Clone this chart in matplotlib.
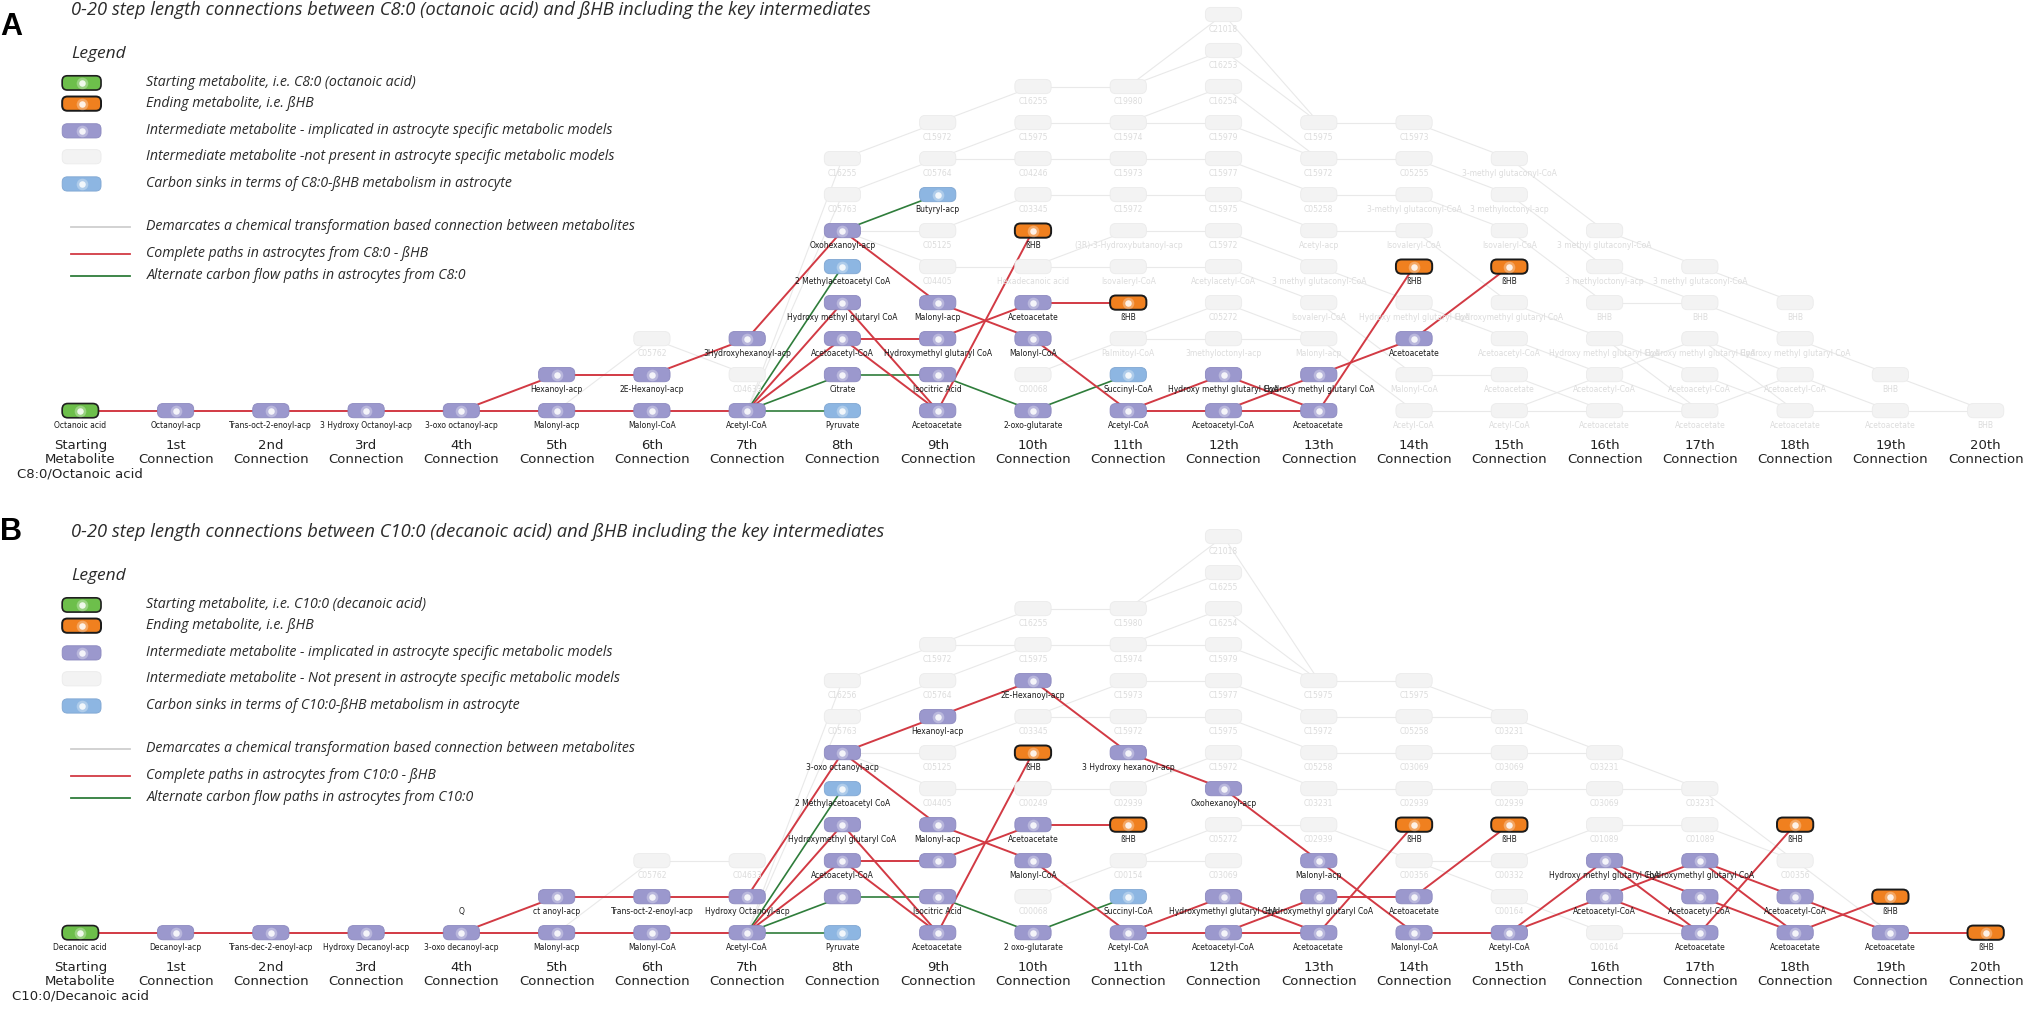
import matplotlib
matplotlib.use("Agg")
import matplotlib.pyplot as plt
from matplotlib.patches import FancyBboxPatch

# ---------------- data ----------------
ordinals = ['1st', '2nd', '3rd', '4th', '5th', '6th', '7th', '8th', '9th', '10th',
            '11th', '12th', '13th', '14th', '15th', '16th', '17th', '18th', '19th', '20th']

# kinds: s = starting, e = ending (bHB), p = implicated, g = not present, b = carbon sink, t = text only
a_nodes = [
    (0, 0, 'Octanoic acid', 's'),
    (1, 0, 'Octanoyl-acp', 'p'),
    (2, 0, 'Trans-oct-2-enoyl-acp', 'p'),
    (3, 0, '3 Hydroxy Octanoyl-acp', 'p'),
    (4, 0, '3-oxo octanoyl-acp', 'p'),
    (5, 0, 'Malonyl-acp', 'p'), (5, 1, 'Hexanoyl-acp', 'p'),
    (6, 0, 'Malonyl-CoA', 'p'), (6, 1, '2E-Hexanoyl-acp', 'p'), (6, 2, 'C05762', 'g'),
    (7, 0, 'Acetyl-CoA', 'p'), (7, 1, 'C04633', 'g'), (7, 2, '3Hydroxyhexanoyl-acp', 'p'),
    (8, 0, 'Pyruvate', 'b'), (8, 1, 'Citrate', 'p'), (8, 2, 'Acetoacetyl-CoA', 'p'),
    (8, 3, 'Hydroxy methyl glutaryl CoA', 'p'), (8, 4, '2 Methylacetoacetyl CoA', 'b'),
    (8, 5, 'Oxohexanoyl-acp', 'p'), (8, 6, 'C05763', 'g'), (8, 7, 'C16255', 'g'),
    (9, 0, 'Acetoacetate', 'p'), (9, 1, 'Isocitric Acid', 'p'), (9, 2, 'Hydroxymethyl glutaryl CoA', 'p'),
    (9, 3, 'Malonyl-acp', 'p'), (9, 4, 'C04405', 'g'), (9, 5, 'C05125', 'g'), (9, 6, 'Butyryl-acp', 'b'),
    (9, 7, 'C05764', 'g'), (9, 8, 'C15972', 'g'),
    (10, 0, '2-oxo-glutarate', 'p'), (10, 1, 'C00068', 'g'), (10, 2, 'Malonyl-CoA', 'p'),
    (10, 3, 'Acetoacetate', 'p'), (10, 4, 'Hexadecanoic acid', 'g'), (10, 5, 'ßHB', 'e'),
    (10, 6, 'C03345', 'g'), (10, 7, 'C04246', 'g'), (10, 8, 'C15975', 'g'), (10, 9, 'C16255', 'g'),
    (11, 0, 'Acetyl-CoA', 'p'), (11, 1, 'Succinyl-CoA', 'b'), (11, 2, 'Palmitoyl-CoA', 'g'),
    (11, 3, 'ßHB', 'e'), (11, 4, 'Isovaleryl-CoA', 'g'), (11, 5, '(3R)-3-Hydroxybutanoyl-acp', 'g'),
    (11, 6, 'C15972', 'g'), (11, 7, 'C15973', 'g'), (11, 8, 'C15974', 'g'), (11, 9, 'C19980', 'g'),
    (12, 0, 'Acetoacetyl-CoA', 'p'), (12, 1, 'Hydroxy methyl glutaryl CoA', 'p'),
    (12, 2, '3methyloctonyl-acp', 'g'), (12, 3, 'C05272', 'g'), (12, 4, 'Acetylacetyl-CoA', 'g'),
    (12, 5, 'C15972', 'g'), (12, 6, 'C15975', 'g'), (12, 7, 'C15977', 'g'), (12, 8, 'C15979', 'g'),
    (12, 9, 'C16254', 'g'), (12, 10, 'C16253', 'g'), (12, 11, 'C21018', 'g'),
    (13, 0, 'Acetoacetate', 'p'), (13, 1, 'Hydroxy methyl glutaryl CoA', 'p'), (13, 2, 'Malonyl-acp', 'g'),
    (13, 3, 'Isovaleryl-CoA', 'g'), (13, 4, '3 methyl glutaconyl-CoA', 'g'), (13, 5, 'Acetyl-acp', 'g'),
    (13, 6, 'C05258', 'g'), (13, 7, 'C15972', 'g'), (13, 8, 'C15975', 'g'),
    (14, 0, 'Acetyl-CoA', 'g'), (14, 1, 'Malonyl-CoA', 'g'), (14, 2, 'Acetoacetate', 'p'),
    (14, 3, 'Hydroxy methyl glutaryl CoA', 'g'), (14, 4, 'ßHB', 'e'), (14, 5, 'Isovaleryl-CoA', 'g'),
    (14, 6, '3-methyl glutaconyl-CoA', 'g'), (14, 7, 'C05255', 'g'), (14, 8, 'C15973', 'g'),
    (15, 0, 'Acetyl-CoA', 'g'), (15, 1, 'Acetoacetate', 'g'), (15, 2, 'Acetoacetyl-CoA', 'g'),
    (15, 3, 'Hydroxymethyl glutaryl CoA', 'g'), (15, 4, 'ßHB', 'e'), (15, 5, 'Isovaleryl-CoA', 'g'),
    (15, 6, '3 methyloctonyl-acp', 'g'), (15, 7, '3-methyl glutaconyl-CoA', 'g'),
    (16, 0, 'Acetoacetate', 'g'), (16, 1, 'Acetoacetyl-CoA', 'g'), (16, 2, 'Hydroxy methyl glutaryl CoA', 'g'),
    (16, 3, 'BHB', 'g'), (16, 4, '3 methyloctonyl-acp', 'g'), (16, 5, '3 methyl glutaconyl-CoA', 'g'),
    (17, 0, 'Acetoacetate', 'g'), (17, 1, 'Acetoacetyl-CoA', 'g'), (17, 2, 'Hydroxy methyl glutaryl CoA', 'g'),
    (17, 3, 'BHB', 'g'), (17, 4, '3 methyl glutaconyl-CoA', 'g'),
    (18, 0, 'Acetoacetate', 'g'), (18, 1, 'Acetoacetyl-CoA', 'g'), (18, 2, 'Hydroxy methyl glutaryl CoA', 'g'),
    (18, 3, 'BHB', 'g'),
    (19, 0, 'Acetoacetate', 'g'), (19, 1, 'BHB', 'g'),
    (20, 0, 'BHB', 'g'),
]

a_red = [(0, 0, 1, 0), (1, 0, 2, 0), (2, 0, 3, 0), (3, 0, 4, 0), (4, 0, 5, 0), (4, 0, 5, 1),
         (5, 0, 6, 0), (5, 1, 6, 1), (6, 0, 7, 0), (6, 1, 7, 2), (7, 2, 8, 5), (7, 0, 8, 2),
         (7, 0, 8, 3), (8, 5, 9, 3), (8, 3, 9, 0), (8, 2, 9, 2), (8, 2, 9, 0), (9, 3, 10, 2),
         (9, 2, 10, 3), (9, 0, 10, 5), (10, 3, 11, 3), (10, 2, 11, 0), (11, 0, 12, 1),
         (11, 0, 12, 0), (12, 1, 13, 0), (12, 0, 13, 1), (12, 0, 13, 0), (13, 1, 14, 2),
         (13, 0, 14, 4), (14, 2, 15, 4)]
a_green = [(7, 0, 8, 0), (7, 0, 8, 1), (7, 0, 8, 4), (8, 5, 9, 6), (8, 1, 9, 1), (9, 1, 10, 0),
           (10, 0, 11, 1)]
a_grey = [(5, 0, 6, 2), (6, 2, 7, 1), (7, 0, 8, 6), (7, 0, 8, 7), (8, 7, 9, 8), (8, 6, 9, 7),
          (8, 5, 9, 5), (8, 5, 9, 4), (9, 8, 10, 9), (9, 7, 10, 8), (9, 7, 10, 7), (9, 5, 10, 6),
          (9, 4, 10, 4), (10, 9, 11, 9), (10, 8, 11, 8), (10, 7, 11, 7), (10, 6, 11, 6),
          (10, 4, 11, 5), (10, 4, 11, 4), (10, 1, 11, 2), (11, 9, 12, 11), (11, 9, 12, 10),
          (11, 8, 12, 9), (11, 8, 12, 8), (11, 7, 12, 7), (11, 6, 12, 6), (11, 5, 12, 5),
          (11, 4, 12, 4), (11, 2, 12, 2), (11, 2, 12, 3), (12, 11, 13, 8), (12, 10, 13, 8),
          (12, 9, 13, 7), (12, 8, 13, 7), (12, 7, 13, 6), (12, 6, 13, 5), (12, 5, 13, 4),
          (12, 4, 13, 3), (12, 3, 13, 2), (12, 2, 13, 2), (13, 8, 14, 8), (13, 7, 14, 7),
          (13, 6, 14, 6), (13, 5, 14, 5), (13, 4, 14, 3), (13, 3, 14, 1), (13, 2, 14, 0),
          (14, 8, 15, 7), (14, 7, 15, 6), (14, 6, 15, 5), (14, 5, 15, 3), (14, 3, 15, 2),
          (14, 1, 15, 1), (14, 0, 15, 0), (15, 7, 16, 5), (15, 6, 16, 4), (15, 5, 16, 3),
          (15, 3, 16, 2), (15, 2, 16, 1), (15, 1, 16, 0), (15, 0, 16, 1), (15, 0, 16, 0),
          (16, 5, 17, 4), (16, 4, 17, 3), (16, 3, 17, 3), (16, 2, 17, 1), (16, 2, 17, 0),
          (16, 1, 17, 2), (16, 1, 17, 0), (16, 0, 17, 0), (17, 4, 18, 3), (17, 3, 18, 2),
          (17, 2, 18, 1), (17, 2, 18, 0), (17, 1, 18, 0), (17, 0, 18, 1), (18, 2, 19, 1),
          (18, 1, 19, 0), (18, 0, 19, 0), (19, 0, 20, 0), (19, 1, 20, 0)]

b_nodes = [
    (0, 0, 'Decanoic acid', 's'), (1, 0, 'Decanoyl-acp', 'p'), (2, 0, 'Trans-dec-2-enoyl-acp', 'p'),
    (3, 0, 'Hydroxy Decanoyl-acp', 'p'), (4, 0, '3-oxo decanoyl-acp', 'p'), (4, 1, 'Q', 't'),
    (5, 0, 'Malonyl-acp', 'p'), (5, 1, 'ct anoyl-acp', 'p'),
    (6, 0, 'Malonyl-CoA', 'p'), (6, 1, 'Trans-oct-2-enoyl-acp', 'p'), (6, 2, 'C05762', 'g'),
    (7, 0, 'Acetyl-CoA', 'p'), (7, 1, 'Hydroxy Octanoyl-acp', 'p'), (7, 2, 'C04633', 'g'),
    (8, 0, 'Pyruvate', 'b'), (8, 1, '', 'p'), (8, 2, 'Acetoacetyl-CoA', 'p'),
    (8, 3, 'Hydroxymethyl glutaryl CoA', 'p'), (8, 4, '2 Methylacetoacetyl CoA', 'b'),
    (8, 5, '3-oxo octanoyl-acp', 'p'), (8, 6, 'C05763', 'g'), (8, 7, 'C16256', 'g'),
    (9, 0, 'Acetoacetate', 'p'), (9, 1, 'Isocitric Acid', 'p'), (9, 2, '', 'p'), (9, 3, 'Malonyl-acp', 'p'),
    (9, 4, 'C04405', 'g'), (9, 5, 'C05125', 'g'), (9, 6, 'Hexanoyl-acp', 'p'), (9, 7, 'C05764', 'g'),
    (9, 8, 'C15972', 'g'),
    (10, 0, '2 oxo-glutarate', 'p'), (10, 1, 'C00068', 'g'), (10, 2, 'Malonyl-CoA', 'p'),
    (10, 3, 'Acetoacetate', 'p'), (10, 4, 'C00249', 'g'), (10, 5, 'ßHB', 'e'), (10, 6, 'C03345', 'g'),
    (10, 7, '2E-Hexanoyl-acp', 'p'), (10, 8, 'C15975', 'g'), (10, 9, 'C16255', 'g'),
    (11, 0, 'Acetyl-CoA', 'p'), (11, 1, 'Succinyl-CoA', 'b'), (11, 2, 'C00154', 'g'), (11, 3, 'ßHB', 'e'),
    (11, 4, 'C02939', 'g'), (11, 5, '3 Hydroxy hexanoyl-acp', 'p'), (11, 6, 'C15972', 'g'),
    (11, 7, 'C15973', 'g'), (11, 8, 'C15974', 'g'), (11, 9, 'C15980', 'g'),
    (12, 0, 'Acetoacetyl-CoA', 'p'), (12, 1, 'Hydroxymethyl glutaryl CoA', 'p'), (12, 2, 'C03069', 'g'),
    (12, 3, 'C05272', 'g'), (12, 4, 'Oxohexanoyl-acp', 'p'), (12, 5, 'C15972', 'g'), (12, 6, 'C15975', 'g'),
    (12, 7, 'C15977', 'g'), (12, 8, 'C15979', 'g'), (12, 9, 'C16254', 'g'), (12, 10, 'C16255', 'g'),
    (12, 11, 'C21018', 'g'),
    (13, 0, 'Acetoacetate', 'p'), (13, 1, 'Hydroxymethyl glutaryl CoA', 'p'), (13, 2, 'Malonyl-acp', 'p'),
    (13, 3, 'C02939', 'g'), (13, 4, 'C03231', 'g'), (13, 5, 'C05258', 'g'), (13, 6, 'C15972', 'g'),
    (13, 7, 'C15975', 'g'),
    (14, 0, 'Malonyl-CoA', 'p'), (14, 1, 'Acetoacetate', 'p'), (14, 2, 'C00356', 'g'), (14, 3, 'ßHB', 'e'),
    (14, 4, 'C02939', 'g'), (14, 5, 'C03069', 'g'), (14, 6, 'C05258', 'g'), (14, 7, 'C15975', 'g'),
    (15, 0, 'Acetyl-CoA', 'p'), (15, 1, 'C00164', 'g'), (15, 2, 'C00332', 'g'), (15, 3, 'ßHB', 'e'),
    (15, 4, 'C02939', 'g'), (15, 5, 'C03069', 'g'), (15, 6, 'C03231', 'g'),
    (16, 0, 'C00164', 'g'), (16, 1, 'Acetoacetyl-CoA', 'p'), (16, 2, 'Hydroxy methyl glutaryl CoA', 'p'),
    (16, 3, 'C01089', 'g'), (16, 4, 'C03069', 'g'), (16, 5, 'C03231', 'g'),
    (17, 0, 'Acetoacetate', 'p'), (17, 1, 'Acetoacetyl-CoA', 'p'), (17, 2, 'Hydroxymethyl glutaryl CoA', 'p'),
    (17, 3, 'C01089', 'g'), (17, 4, 'C03231', 'g'),
    (18, 0, 'Acetoacetate', 'p'), (18, 1, 'Acetoacetyl-CoA', 'p'), (18, 2, 'C00356', 'g'), (18, 3, 'ßHB', 'e'),
    (19, 0, 'Acetoacetate', 'p'), (19, 1, 'ßHB', 'e'),
    (20, 0, 'ßHB', 'e'),
]

b_red = [(0, 0, 1, 0), (1, 0, 2, 0), (2, 0, 3, 0), (3, 0, 4, 0), (4, 0, 5, 0), (4, 0, 5, 1),
         (5, 0, 6, 0), (5, 1, 6, 1), (6, 0, 7, 0), (6, 1, 7, 1), (7, 1, 8, 5), (7, 0, 8, 2),
         (7, 0, 8, 3), (8, 5, 9, 6), (8, 5, 9, 3), (8, 3, 9, 0), (8, 2, 9, 2), (8, 2, 9, 0),
         (9, 6, 10, 7), (9, 3, 10, 2), (9, 2, 10, 3), (9, 0, 10, 5), (10, 7, 11, 5), (10, 3, 11, 3),
         (10, 2, 11, 0), (11, 5, 12, 4), (12, 4, 13, 2), (11, 0, 12, 1), (11, 0, 12, 0),
         (12, 1, 13, 0), (12, 0, 13, 1), (12, 0, 13, 0), (13, 2, 14, 0), (13, 1, 14, 1),
         (13, 0, 14, 3), (14, 1, 15, 3), (14, 0, 15, 0), (15, 0, 16, 2), (15, 0, 16, 1),
         (16, 2, 17, 1), (16, 2, 17, 0), (16, 1, 17, 2), (16, 1, 17, 0), (17, 2, 18, 1),
         (17, 2, 18, 0), (17, 1, 18, 0), (17, 0, 18, 3), (18, 1, 19, 0), (18, 0, 19, 1),
         (19, 0, 20, 0)]
b_green = [(7, 0, 8, 0), (7, 0, 8, 1), (7, 0, 8, 4), (8, 1, 9, 1), (9, 1, 10, 0), (10, 0, 11, 1)]
b_grey = [(5, 0, 6, 2), (6, 2, 7, 2), (7, 0, 8, 6), (7, 0, 8, 7), (8, 7, 9, 8), (8, 6, 9, 7),
          (8, 5, 9, 5), (8, 5, 9, 4), (9, 8, 10, 9), (9, 8, 10, 8), (9, 7, 10, 8), (9, 5, 10, 6),
          (9, 4, 10, 4), (10, 9, 11, 9), (10, 8, 11, 8), (10, 6, 11, 7), (10, 6, 11, 6),
          (10, 4, 11, 4), (10, 1, 11, 2), (11, 9, 12, 11), (11, 9, 12, 10), (11, 8, 12, 9),
          (11, 8, 12, 8), (11, 7, 12, 7), (11, 6, 12, 6), (11, 4, 12, 5), (11, 2, 12, 2),
          (11, 2, 12, 3), (12, 11, 13, 7), (12, 9, 13, 7), (12, 8, 13, 7), (12, 7, 13, 6),
          (12, 6, 13, 5), (12, 5, 13, 4), (12, 3, 13, 3), (13, 7, 14, 7), (13, 6, 14, 6),
          (13, 5, 14, 5), (13, 4, 14, 4), (13, 3, 14, 2), (14, 7, 15, 6), (14, 6, 15, 6),
          (14, 5, 15, 5), (14, 4, 15, 4), (14, 2, 15, 2), (14, 2, 15, 1), (15, 6, 16, 5),
          (15, 5, 16, 5), (15, 4, 16, 4), (15, 2, 16, 3), (15, 1, 16, 0), (16, 5, 17, 4),
          (16, 4, 17, 4), (16, 3, 17, 3), (16, 0, 17, 0), (17, 4, 18, 2), (17, 3, 18, 2),
          (18, 2, 19, 0)]

a_title = '0-20 step length connections between C8:0 (octanoic acid) and ßHB including the key intermediates'
b_title = '0-20 step length connections between C10:0 (decanoic acid) and ßHB including the key intermediates'
a_start = 'Starting\nMetabolite\nC8:0/Octanoic acid'
b_start = 'Starting\nMetabolite\nC10:0/Decanoic acid'
a_legend = ['Starting metabolite, i.e. C8:0 (octanoic acid)',
            'Ending metabolite, i.e. ßHB',
            'Intermediate metabolite - implicated in astrocyte specific metabolic models',
            'Intermediate metabolite -not present in astrocyte specific metabolic models',
            'Carbon sinks in terms of C8:0-ßHB metabolism in astrocyte',
            'Demarcates a chemical transformation based connection between metabolites',
            'Complete paths in astrocytes from C8:0 - ßHB',
            'Alternate carbon flow paths in astrocytes from C8:0']
b_legend = ['Starting metabolite, i.e. C10:0 (decanoic acid)',
            'Ending metabolite, i.e. ßHB',
            'Intermediate metabolite - implicated in astrocyte specific metabolic models',
            'Intermediate metabolite - Not present in astrocyte specific metabolic models',
            'Carbon sinks in terms of C10:0-ßHB metabolism in astrocyte',
            'Demarcates a chemical transformation based connection between metabolites',
            'Complete paths in astrocytes from C10:0 - ßHB',
            'Alternate carbon flow paths in astrocytes from C10:0']

# ---------------- styles ----------------
face = {'s': '#6dbf4b', 'e': '#f0801f', 'p': '#9b98cd', 'g': '#f3f3f3', 'b': '#8db6e2'}
edge = {'s': '#1f1f1f', 'e': '#1a1a1a', 'p': '#8c89bf', 'g': '#ebebeb', 'b': '#7fa6d2'}
elw = {'s': 1.2, 'e': 1.4, 'p': 0.6, 'g': 0.6, 'b': 0.6}
RED, GREEN, GREY = '#d23a44', '#2f7d3b', '#e9e9e9'
NARROW = ['Liberation Sans Narrow', 'DejaVu Sans']
ITAL = ['Open Sans', 'DejaVu Sans']

fig = plt.figure(figsize=(20.31, 10.13), dpi=100)

# panel axes in column / row units; layout canvas of 1568 x 782 units
W, H = 1568.0, 782.0
X0, DX, DY = 62.0, 73.55, 27.8
BW, BH = 28.0 / DX, 11.0 / DY


def node_box(ax, x, y, kind, w, h, rounding, aspect, glow=True):
    ax.add_patch(FancyBboxPatch((x - w / 2, y - h / 2), w, h,
                                boxstyle='round,pad=0,rounding_size=%f' % rounding,
                                mutation_aspect=aspect, fc=face[kind], ec=edge[kind],
                                lw=elw[kind], zorder=3))
    if glow and kind != 'g':
        ax.scatter([x], [y], s=70, c='white', alpha=0.3, lw=0, zorder=4)
        ax.scatter([x], [y], s=22, c='white', alpha=0.85, lw=0, zorder=4)


def draw_panel(ax, nodes, red, green, grey, start_label):
    for lst, col, lw, z in ((grey, GREY, 0.8, 1), (green, GREEN, 1.2, 2), (red, RED, 1.4, 2)):
        for c1, r1, c2, r2 in lst:
            ax.plot([c1, c2], [r1, r2], color=col, lw=lw, zorder=z, solid_capstyle='butt')
    for c, r, label, kind in nodes:
        if kind == 't':
            ax.text(c, r - 0.4, label, ha='center', va='center', fontsize=5.5,
                    family=NARROW, color='#222222')
            continue
        node_box(ax, c, r, kind, BW, BH, 0.06, DX / DY)
        tcol = '#dcdcdc' if kind == 'g' else '#1a1a1a'
        ax.text(c, r - 0.41, label, ha='center', va='center', fontsize=5.5,
                family=NARROW, color=tcol, zorder=5)
    labels = [start_label] + [o + '\nConnection' for o in ordinals]
    for i, lab in enumerate(labels):
        ax.text(i, -0.8, lab, ha='center', va='top', fontsize=9.5, family=NARROW,
                color='#222222', linespacing=1.1)


def make_axes(top_px, base_px):
    ax = fig.add_axes([0, 1 - (top_px + H / 2) / H, 1, 0.5])
    ax.set_xlim(-X0 / DX, (W - X0) / DX)
    ax.set_ylim((base_px - (top_px + H / 2)) / DY, (base_px - top_px) / DY)
    ax.axis('off')
    return ax


ax_a = make_axes(0.0, 317.0)
draw_panel(ax_a, a_nodes, a_red, a_green, a_grey, a_start)
ax_b = make_axes(391.0, 720.0)
draw_panel(ax_b, b_nodes, b_red, b_green, b_grey, b_start)

# overlay for titles and legends
ov = fig.add_axes([0, 0, 1, 1])
ov.set_xlim(0, W)
ov.set_ylim(H, 0)
ov.axis('off')


def legend_block(top, letter, letter_y, title, texts):
    ov.text(0, letter_y, letter, fontsize=22, fontweight='bold', family=['Liberation Sans'],
            va='center', ha='left')
    ov.text(55, top + 8, title, fontsize=13.2, style='italic',
            family=ITAL, va='center', ha='left', color='#2a2a2a')
    ov.text(55, top + 42, 'Legend', fontsize=12.5, style='italic',
            family=ITAL, va='center', ha='left', color='#2a2a2a')
    ys = [64, 80, 101, 121, 142]
    for y, kind, txt in zip(ys, ['s', 'e', 'p', 'g', 'b'], texts[:5]):
        node_box(ov, 63, top + y, kind, 30, 11, 4, 1)
        ov.text(113, top + y, txt, fontsize=10.2, style='italic',
                family=ITAL, va='center', ha='left', color='#2a2a2a')
    for y, col, txt in zip([175, 196, 213], ['#cfcfcf', RED, GREEN], texts[5:]):
        ov.plot([55, 100], [top + y, top + y], color=col, lw=1.3)
        ov.text(113, top + y, txt, fontsize=10.2, style='italic',
                family=ITAL, va='center', ha='left', color='#2a2a2a')


legend_block(0, 'A', 21, a_title, a_legend)
legend_block(403, 'B', 411, b_title, b_legend)

fig.savefig('out.png', dpi=100, facecolor='white')
